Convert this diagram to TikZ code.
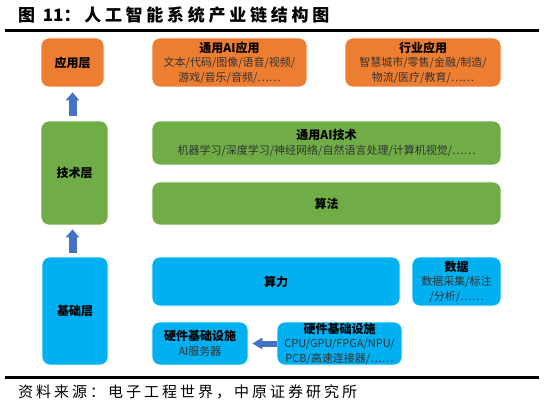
\documentclass[tikz,border=0pt]{standalone}
\usepackage{fontspec}
\setmainfont{Noto Sans CJK SC}
\usetikzlibrary{arrows.meta}
\definecolor{aorange}{HTML}{ED7D31}
\definecolor{agreen}{HTML}{70AD47}
\definecolor{ablue}{HTML}{00B0F0}
\definecolor{aarrow}{HTML}{4472C4}
\definecolor{subtxt}{HTML}{333333}
\tikzset{
  box/.style={rounded corners=8pt, draw=white, line width=0.6pt, inner sep=0pt, align=center,
    font=\fontsize{11}{14.5}\selectfont, text=subtxt},
  obox/.style={box, fill=aorange},
  gbox/.style={box, fill=agreen},
  bbox/.style={box, fill=ablue},
  uparr/.style={draw=aarrow, line width=8pt, -{Triangle[width=13pt,length=8pt]}},
  leftarr/.style={draw=aarrow, line width=6pt, -{Triangle[width=11pt,length=10pt]}},
  rulebar/.style={line width=3pt, black}
}
\newcommand{\bt}[1]{\textcolor{black}{\bfseries\fontsize{12}{14.5}\selectfont #1}}
\begin{document}
\begin{tikzpicture}[x=1pt,y=-1pt]
\useasboundingbox (0,0) rectangle (544,409);
% title
\node[anchor=west, inner sep=0pt, font=\bfseries\fontsize{17}{17}\selectfont] (title) at (18,15.5) {{\addfontfeature{LetterSpace=22}图 }11{\addfontfeature{LetterSpace=22}：人工智能系统产业链结构图}};
\coordinate (r1a) at (5,31);
\coordinate (r1b) at (539,31);
\draw[rulebar] (r1a) -- (r1b);
% left layers
\node[obox, minimum width=63pt, minimum height=49pt] (app) at (72.5,62.5) {\bt{应用层}};
\node[gbox, minimum width=67pt, minimum height=104pt] (tech) at (74.5,173) {\bt{技术层}};
\node[bbox, minimum width=66pt, minimum height=108pt] (base) at (75,311) {\bt{基础层}};
% application layer
\node[obox, minimum width=155pt, minimum height=49pt] (gapp) at (229.5,62.5) {\bt{通用AI应用}\\文本/代码/图像/语音/视频/\\游戏/音乐/音频/……};
\node[obox, minimum width=156pt, minimum height=49pt] (iapp) at (423,62.5) {\bt{行业应用}\\智慧城市/零售/金融/制造/\\物流/医疗/教育/……};
% technology layer
\node[gbox, minimum width=349pt, minimum height=44pt] (gtech) at (326.5,143) {\bt{通用AI技术}\\机器学习/深度学习/神经网络/自然语言处理/计算机视觉/……};
\node[gbox, minimum width=349pt, minimum height=43pt] (algo) at (326.5,203.5) {\bt{算法}};
% base layer
\node[bbox, minimum width=248pt, minimum height=49pt] (comp) at (276,281.5) {\bt{算力}};
\node[bbox, minimum width=89pt, minimum height=49pt] (data) at (456.5,281.5) {\bt{数据}\\数据采集/标注\\/分析/……};
\node[bbox, minimum width=96pt, minimum height=43pt] (hwl) at (200,343.5) {\bt{硬件基础设施}\\AI服务器};
\node[bbox, minimum width=125pt, minimum height=43pt] (hwr) at (339.5,343.5) {\bt{硬件基础设施}\\CPU/GPU/FPGA/NPU/\\PCB/高速连接器/……};
% arrows
\draw[uparr, shorten <=5pt, shorten >=5pt] (tech.north -| app.south) -- (app.south);
\draw[uparr, shorten <=4pt, shorten >=4pt] (base.north -| app.south) -- (tech.south -| app.south);
\draw[leftarr, shorten >=4pt] (hwr.west) -- (hwl.east);
% bottom rule and source
\coordinate (r2a) at (5,377.5);
\coordinate (r2b) at (539,377.5);
\draw[rulebar] (r2a) -- (r2b);
\node[anchor=west, inner sep=0pt, font=\fontsize{15}{15}\selectfont\addfontfeature{LetterSpace=20}] (src) at (18,392) {资料来源：电子工程世界，中原证券研究所};
\end{tikzpicture}
\end{document}
